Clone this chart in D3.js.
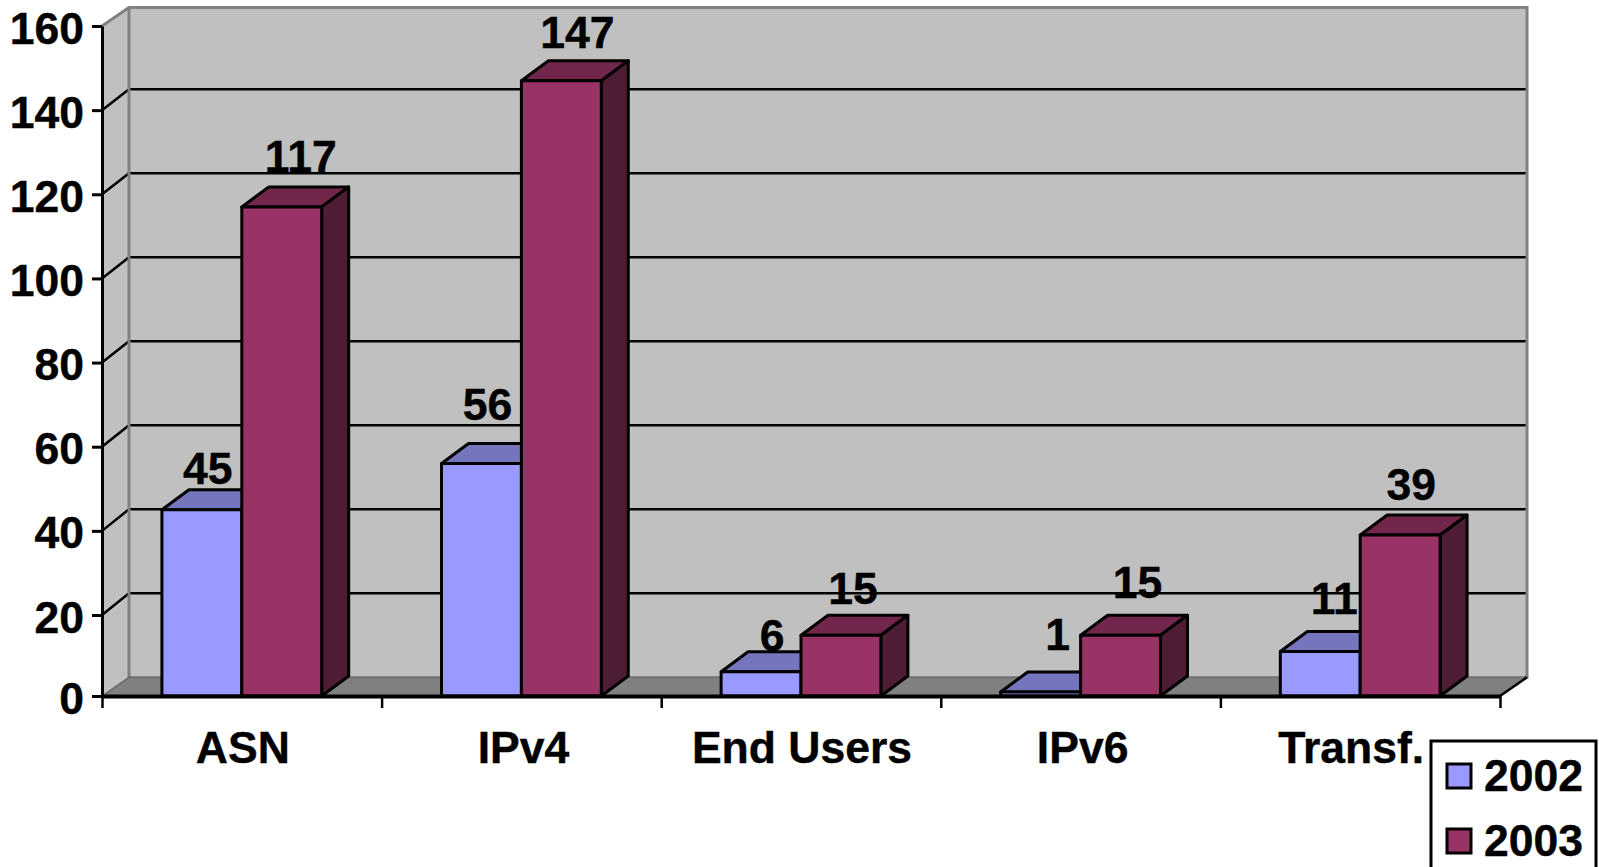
<!DOCTYPE html>
<html>
<head>
<meta charset="utf-8">
<script src="https://cdn.jsdelivr.net/npm/d3@7"></script>
<style>
    html, body { margin: 0; padding: 0; background: #fff; overflow: hidden; }
    text { font-family: "Liberation Sans", Arial, sans-serif; font-weight: bold; fill: #000; stroke: #000; stroke-width: 0.4px; }
</style>
</head>
<body>
<div id="chart"></div>
<script>
// chart data
const categories = ['ASN', 'IPv4', 'End Users', 'IPv6', 'Transf.'];
const years = ['2002', '2003'];
const values2002 = [45, 56, 6, 1, 11];
const values2003 = [117, 147, 15, 15, 39];
const yTicks = [0, 20, 40, 60, 80, 100, 120, 140, 160];

// declaring setup/layout variables
const width = 1599;
const height = 867;
const margin = {l:102, r:99};
const depth = {x:27, y:19};
const barDepth = {x:27, y:20};
const fontSize = '44.5px';

const colors = {
    '2002': {front:'#9999ff', top:'#7575bd', side:'#5a5a96'},
    '2003': {front:'#993366', top:'#73264c', side:'#4f1c35'}
};

// the source chart places each value label by hand, so these follow it
const labelShift = {
    '2002': [[6, -6], [6, -24], [11, -1], [17, -22], [14, -17]],
    '2003': [[19, -15], [16, -13], [12, -11], [17, -17], [11, -15]]
};
const categoryShift = [1, 2, 1, 2, -9];

const rows = categories.map((c, i) => ({
    category: c,
    index: i,
    bars: [
        {year: years[0], value: values2002[i]},
        {year: years[1], value: values2003[i]}
    ]
}));

const svg = d3.select('#chart')
    .append('svg')
    .attr('width', width)
    .attr('height', height)
    .style('display', 'block');

// the floor of the source sits a little above its regular tick spacing, hence the extra stop at 20
const scaleY = d3.scaleLinear().domain([0, 20, 160]).range([696, 615, 26]);
const scaleBack = d3.scaleLinear().domain([0, 160]).range([677.3, 5.3]);
const scaleX = d3.scaleBand().domain(categories).range([margin.l, width - margin.r]);
const scaleBar = d3.scaleBand().domain(years).range([0, scaleX.bandwidth()]).paddingInner(0).paddingOuter(0.75);
const scaleEdge = d3.scaleLinear().domain([0, categories.length]).range([margin.l, width - margin.r]);

const x0 = scaleEdge.range()[0];
const x1 = scaleEdge.range()[1];
const y0 = scaleY(0);
const yTop = scaleY(160);
const backTop = 7.5;
const backFloor = scaleBack(0);

// walls and floor
const poly = pts => pts.map(p => p.join(',')).join(' ');

svg.append('polygon')
    .attr('points', poly([[x0 + depth.x, backTop], [x1 + depth.x, backTop], [x1 + depth.x, backFloor], [x0 + depth.x, backFloor]]))
    .attr('fill', '#c0c0c0');

svg.append('polygon')
    .attr('points', poly([[x0, yTop], [x0 + depth.x, backTop], [x0 + depth.x, backFloor], [x0, y0]]))
    .attr('fill', '#c0c0c0');

svg.append('polygon')
    .attr('points', poly([[x0, y0], [x0 + depth.x, backFloor], [x1 + depth.x, backFloor], [x1, y0]]))
    .attr('fill', '#808080');

// gridlines along the back wall and down the side wall
const grid = svg.append('g');
const gridTicks = yTicks.filter(d => d > 0 && d < 160);

grid.selectAll('.back')
    .data(gridTicks)
    .join('line')
    .attr('x1', x0 + depth.x)
    .attr('x2', x1 + depth.x)
    .attr('y1', d => scaleBack(d))
    .attr('y2', d => scaleBack(d))
    .attr('stroke', '#000')
    .attr('stroke-width', 2.5);

grid.selectAll('.side')
    .data(gridTicks)
    .join('line')
    .attr('x1', x0)
    .attr('x2', x0 + depth.x)
    .attr('y1', d => scaleY(d))
    .attr('y2', d => scaleBack(d))
    .attr('stroke', '#000')
    .attr('stroke-width', 2.5);

// grey frame of the walls
svg.append('polyline')
    .attr('points', poly([[x0, yTop], [x0 + depth.x, backTop], [x1 + depth.x, backTop], [x1 + depth.x, backFloor], [x1 + depth.x - 3, backFloor]]))
    .attr('fill', 'none')
    .attr('stroke', '#808080')
    .attr('stroke-width', 3);

svg.append('line')
    .attr('x1', x0 + depth.x)
    .attr('x2', x0 + depth.x)
    .attr('y1', backTop)
    .attr('y2', backFloor)
    .attr('stroke', '#808080')
    .attr('stroke-width', 3);

svg.append('line')
    .attr('x1', x0 + depth.x)
    .attr('x2', x1 + depth.x)
    .attr('y1', backFloor)
    .attr('y2', backFloor)
    .attr('stroke', '#707070')
    .attr('stroke-width', 2);

svg.append('line')
    .attr('x1', x0)
    .attr('x2', x0 + depth.x)
    .attr('y1', y0)
    .attr('y2', backFloor)
    .attr('stroke', '#666')
    .attr('stroke-width', 1.5);

svg.append('line')
    .attr('x1', x1)
    .attr('x2', x1 + depth.x)
    .attr('y1', y0)
    .attr('y2', backFloor)
    .attr('stroke', '#000')
    .attr('stroke-width', 2.5);

// bars, each one a front, a top and a side face
const groups = svg.append('g')
    .selectAll('g')
    .data(rows)
    .join('g')
    .attr('transform', d => `translate(${scaleX(d.category)},0)`);

const bars = groups.selectAll('g')
    .data(d => d.bars)
    .join('g')
    .attr('stroke', '#000')
    .attr('stroke-width', 3)
    .attr('stroke-linejoin', 'round');

bars.append('polygon')
    .attr('fill', d => colors[d.year].top)
    .attr('points', d => {
        const l = scaleBar(d.year), r = l + scaleBar.bandwidth(), t = scaleY(d.value);
        return poly([[l, t], [l + barDepth.x, t - barDepth.y], [r + barDepth.x, t - barDepth.y], [r, t]]);
    });

bars.append('polygon')
    .attr('fill', d => colors[d.year].side)
    .attr('points', d => {
        const r = scaleBar(d.year) + scaleBar.bandwidth(), t = scaleY(d.value);
        return poly([[r, t], [r + barDepth.x, t - barDepth.y], [r + barDepth.x, y0 - barDepth.y], [r, y0]]);
    });

bars.append('rect')
    .attr('fill', d => colors[d.year].front)
    .attr('x', d => scaleBar(d.year))
    .attr('y', d => scaleY(d.value))
    .attr('width', scaleBar.bandwidth())
    .attr('height', d => y0 - scaleY(d.value));

// Add the Y Axis
const axisY = svg.append('g')
    .attr('transform', `translate(${x0},0)`)
    .call(d3.axisLeft(scaleY).tickValues(yTicks).tickSize(10).tickPadding(8).tickSizeOuter(0));

axisY.select('.domain').attr('stroke', '#000').attr('stroke-width', 3);
axisY.selectAll('line').attr('stroke', '#000').attr('stroke-width', 3);
axisY.selectAll('text')
    .attr('dy', 17)
    .style('font-size', fontSize)
    .style('font-family', '"Liberation Sans", Arial, sans-serif');

// Add the X Axis, ticks sit between the categories
const axisEdge = svg.append('g')
    .attr('transform', `translate(0,${y0})`)
    .call(d3.axisBottom(scaleEdge).ticks(categories.length).tickSize(12).tickFormat('').tickSizeOuter(0));

axisEdge.select('.domain').attr('stroke', '#000').attr('stroke-width', 4);
axisEdge.selectAll('line').attr('stroke', '#000').attr('stroke-width', 2.5);

const axisCat = svg.append('g')
    .attr('transform', `translate(0,${y0})`)
    .call(d3.axisBottom(scaleX).tickSize(0).tickPadding(0));

axisCat.select('.domain').remove();
axisCat.selectAll('text')
    .attr('x', (d, i) => categoryShift[i])
    .attr('y', 67)
    .attr('dy', 0)
    .style('font-size', fontSize)
    .style('font-family', '"Liberation Sans", Arial, sans-serif');

// value labels, on top of every bar
groups.each(function(row) {
    d3.select(this).selectAll('.value')
        .data(row.bars)
        .join('text')
        .attr('class', 'value')
        .attr('text-anchor', 'middle')
        .style('font-size', fontSize)
        .attr('x', d => scaleBar(d.year) + scaleBar.bandwidth() / 2 + labelShift[d.year][row.index][0])
        .attr('y', d => scaleY(d.value) - barDepth.y + labelShift[d.year][row.index][1])
        .text(d => d.value);
});

// legend, its box runs off the bottom of the picture
const legend = svg.append('g').attr('transform', 'translate(1431,741)');

legend.append('rect')
    .attr('width', 165)
    .attr('height', 140)
    .attr('fill', '#fff')
    .attr('stroke', '#000')
    .attr('stroke-width', 3);

const legendY = d3.scalePoint().domain(years).range([23, 88]);

const items = legend.selectAll('.item')
    .data(years)
    .join('g')
    .attr('class', 'item')
    .attr('transform', d => `translate(16,${legendY(d)})`);

items.append('rect')
    .attr('width', 24)
    .attr('height', 24)
    .attr('fill', d => colors[d].front)
    .attr('stroke', '#000')
    .attr('stroke-width', 3);

items.append('text')
    .attr('x', 37)
    .attr('y', 27)
    .style('font-size', fontSize)
    .text(d => d);
</script>
</body>
</html>
